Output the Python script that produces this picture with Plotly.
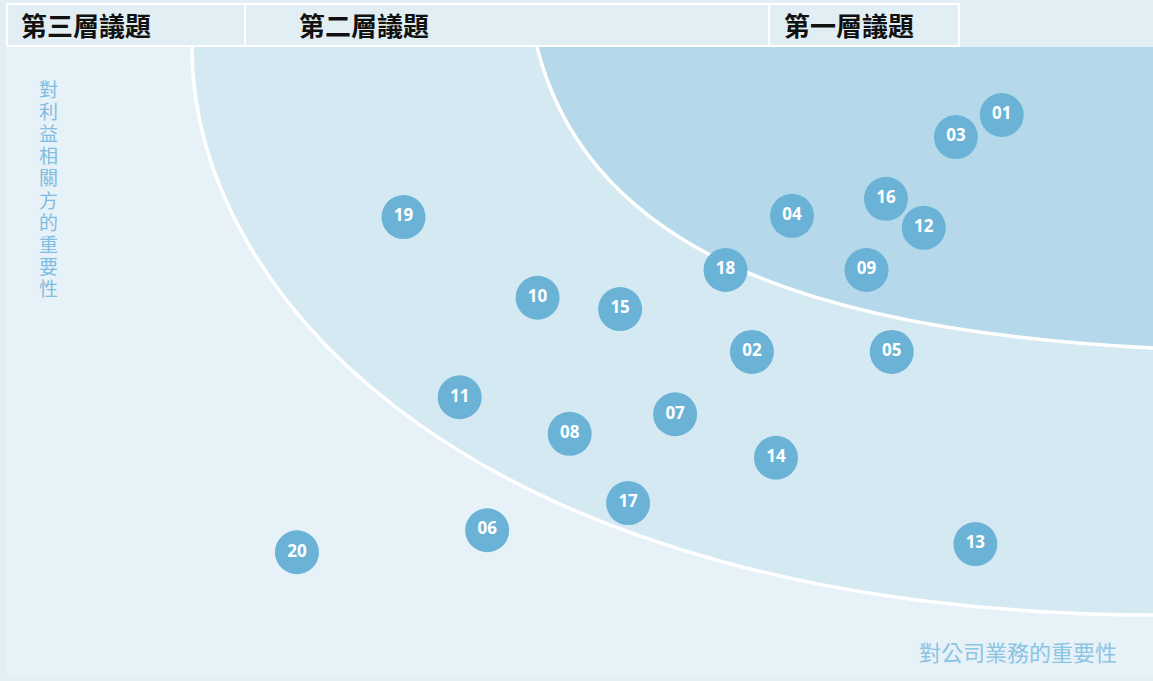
import plotly.graph_objects as go

# ---- data ----
issue_ids = ["01", "03", "16", "12", "04", "18", "09", "05", "02", "15",
             "10", "19", "11", "08", "07", "14", "17", "06", "20", "13"]
business_importance = [86.8, 82.8, 76.7, 80.0, 68.5, 62.7, 75.0, 77.2, 65.0, 53.5,
                       46.3, 34.6, 39.5, 49.1, 58.3, 67.1, 54.2, 41.9, 25.3, 84.5]
stakeholder_importance = [89.2, 85.7, 75.9, 71.3, 73.2, 64.6, 64.6, 51.6, 51.6, 58.4,
                          60.2, 73.0, 44.4, 38.6, 41.7, 34.8, 27.6, 23.3, 19.8, 21.1]

# zone boundaries as cubic Bezier control points (same value scale): start, ctrl1, ctrl2, end
outer_ctrl_x = [16.14, 16.14, 41.27, 100.0]
outer_ctrl_y = [100.0, 59.68, 10.32, 9.84]
inner_ctrl_x = [46.25, 50.61, 69.46, 100.0]
inner_ctrl_y = [100.0, 68.25, 55.0, 52.22]

tier_labels = ["第三層議題", "第二層議題", "第一層議題"]
y_title = "對利益相關方的重要性"
x_title = "對公司業務的重要性"

# ---- figure geometry ----
W, H = 1153, 681
ML, MR, MT, MB = 7, 0, 47, 4
PW, PH = W - ML - MR, H - MT - MB


def px_x(p):
    return (p - ML) / PW


def px_y(p):
    return 1 - (p - MT) / PH


def bezier(cx, cy):
    return "M {} {} C {} {}, {} {}, {} {}".format(
        cx[0], cy[0], cx[1], cy[1], cx[2], cy[2], cx[3], cy[3])


def zone(cx, cy):
    return bezier(cx, cy) + " L 100 100 L {} 100 Z".format(cx[0])


fig = go.Figure()

# bubbles
fig.add_trace(go.Scatter(
    x=business_importance, y=stakeholder_importance,
    mode="markers+text", text=issue_ids,
    marker=dict(size=44, color="#6ab3d7", line=dict(width=0)),
    textfont=dict(family="Open Sans", size=17, color="white", weight="bold"),
    textposition="middle center",
    hoverinfo="text", showlegend=False))

shapes = [
    dict(type="path", xref="x", yref="y", path=zone(outer_ctrl_x, outer_ctrl_y),
         fillcolor="#d5e9f3", line=dict(width=0), layer="below"),
    dict(type="path", xref="x", yref="y", path=zone(inner_ctrl_x, inner_ctrl_y),
         fillcolor="#b5d9eb", line=dict(width=0), layer="below"),
    dict(type="path", xref="x", yref="y", path=bezier(outer_ctrl_x, outer_ctrl_y),
         fillcolor="rgba(0,0,0,0)", line=dict(color="white", width=3.5), layer="below"),
    dict(type="path", xref="x", yref="y", path=bezier(inner_ctrl_x, inner_ctrl_y),
         fillcolor="rgba(0,0,0,0)", line=dict(color="white", width=3.5), layer="below"),
]
# header cells
shapes.append(dict(type="rect", xref="paper", yref="paper",
                   x0=px_x(7), x1=px_x(959), y0=px_y(46), y1=px_y(4),
                   line=dict(color="white", width=2), fillcolor="rgba(0,0,0,0)", layer="above"))
for xd in [245, 769]:
    shapes.append(dict(type="line", xref="paper", yref="paper",
                       x0=px_x(xd), x1=px_x(xd), y0=px_y(46), y1=px_y(4),
                       line=dict(color="white", width=2)))

annotations = []
for lab, xp in zip(tier_labels, [19, 297, 782]):
    annotations.append(dict(text=lab, xref="paper", yref="paper",
                            x=px_x(xp), y=px_y(25), xanchor="left", yanchor="middle",
                            showarrow=False,
                            font=dict(family="Noto Sans CJK TC", size=26, color="#111111", weight="bold")))

# vertical (stacked) y-axis title, one character per line
for i, ch in enumerate(y_title):
    annotations.append(dict(text=ch, xref="paper", yref="paper",
                            x=px_x(48), y=px_y(88 + i * 22.2), xanchor="center", yanchor="middle",
                            showarrow=False,
                            font=dict(family="Noto Sans CJK TC", size=19, color="#80bde0")))
annotations.append(dict(text=x_title, xref="paper", yref="paper",
                        x=px_x(1119), y=px_y(651), xanchor="right", yanchor="middle",
                        showarrow=False,
                        font=dict(family="Noto Sans CJK TC", size=22, color="#8cc4e3")))

fig.update_layout(
    width=W, height=H,
    margin=dict(l=ML, r=MR, t=MT, b=MB, pad=0),
    paper_bgcolor="#e1eff4",
    plot_bgcolor="#e7f2f8",
    xaxis=dict(range=[0, 100], visible=False, fixedrange=True),
    yaxis=dict(range=[0, 100], visible=False, fixedrange=True),
    shapes=shapes,
    annotations=annotations,
)

fig.write_html("out.html",
               config={"displayModeBar": False},
               post_script="document.body.style.margin='0px';document.body.style.overflow='hidden';")
